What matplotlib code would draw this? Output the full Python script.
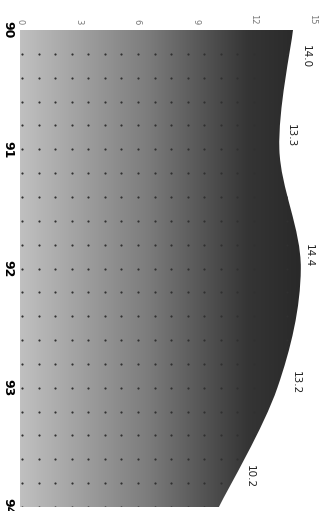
import numpy as np
import matplotlib
matplotlib.use('Agg')
from matplotlib import pyplot as plt
from matplotlib.path import Path
from matplotlib.patches import PathPatch
from matplotlib.colors import LinearSegmentedColormap

years = [90, 91, 92, 93, 94]
values = [14.0, 13.3, 14.4, 13.2, 10.2]
value_labels = ['14.0', '13.3', '14.4', '13.2', '10.2']
value_ticks = [0, 3, 6, 9, 12, 15]

# label offsets in points (right, down) from each data point
label_offsets = [(9, 19), (8, -10), (6, -9), (13, -4), (22, -22)]

fig = plt.figure(figsize=(3.35, 5.11), dpi=100)
ax = fig.add_axes([20 / 335, 4 / 511, 315 / 335, 477 / 511])
ax.set_xlim(0, 315 / 19.5)
ax.set_ylim(94, 90)

# smooth outline through the points (catmull-rom -> cubic bezier)
pts = np.column_stack([values, years]).astype(float)
ext = np.vstack([pts[0], pts, pts[-1]])
verts = [(0, years[0]), tuple(pts[0])]
codes = [Path.MOVETO, Path.LINETO]
for i in range(len(pts) - 1):
    p0, p1, p2, p3 = ext[i], ext[i + 1], ext[i + 2], ext[i + 3]
    c1 = p1 + (p2 - p0) / 6
    c2 = p2 - (p3 - p1) / 6
    verts += [tuple(c1), tuple(c2), tuple(p2)]
    codes += [Path.CURVE4] * 3
verts += [(0, years[-1]), (0, years[0])]
codes += [Path.LINETO, Path.CLOSEPOLY]
outline = PathPatch(Path(verts, codes), facecolor='none', edgecolor='none')
ax.add_patch(outline)

cmap = LinearSegmentedColormap.from_list(
    'grey', [(0, '#c0c0c0'), (0.45, '#7c7c7c'), (0.8, '#353535'), (1, '#282828')])
grad = np.linspace(0, 1, 256).reshape(1, -1)
im = ax.imshow(grad, cmap=cmap, aspect='auto', extent=[0, 14.6, 94, 90],
               interpolation='bilinear')
im.set_clip_path(outline)

# dotted pattern
dx, dy = np.meshgrid(np.arange(0.1, 15, 0.85), np.arange(90.2, 94.01, 0.2))
dots = ax.scatter(dx.ravel(), dy.ravel(), s=2.5, c='#303030', linewidths=0)
dots.set_clip_path(outline)

for yr, v, lab, (ox, oy) in zip(years, values, value_labels, label_offsets):
    ax.annotate(lab, (v, yr), xytext=(ox, -oy), textcoords='offset points',
                rotation=-90, ha='center', va='center', fontsize=7.5,
                color='#222222')

ax.xaxis.tick_top()
ax.set_xticks(value_ticks)
ax.set_xticklabels([str(t) for t in value_ticks], rotation=-90, fontsize=6,
                   color='#777777')
ax.tick_params(axis='x', length=0, pad=4)
ax.set_yticks(years)
ax.set_yticklabels([str(y) for y in years], rotation=-90, fontsize=9,
                   fontweight='bold', va='center')
ax.tick_params(axis='y', length=0, pad=4)
for s in ax.spines.values():
    s.set_visible(False)

fig.savefig('out.png', dpi=100)
